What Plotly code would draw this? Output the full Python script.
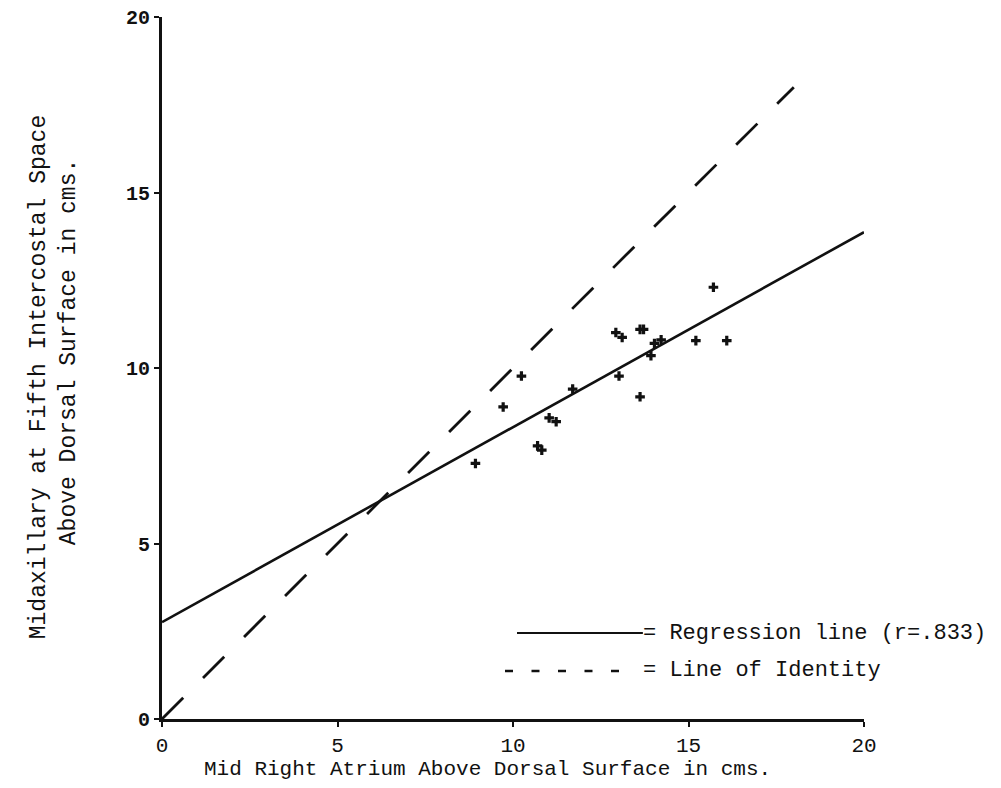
import plotly.graph_objects as go

# ---- data ----
atrium_x = [15.71, 12.93, 13.11, 13.62, 13.72, 14.03, 14.22, 15.21, 16.09, 13.93,
            13.02, 13.62, 11.70, 10.24, 9.72, 11.03, 11.23, 10.70, 10.82, 8.93]
midax_y = [12.30, 11.01, 10.87, 11.10, 11.10, 10.70, 10.80, 10.78, 10.78, 10.35,
           9.77, 9.18, 9.40, 9.77, 8.89, 8.58, 8.47, 7.78, 7.66, 7.28]

regression_x = [0, 20]
regression_y = [2.76, 13.87]
identity_x = [0, 18]
identity_y = [0, 18]

tick_vals = [0, 5, 10, 15, 20]
tick_text = ["0", "5", "10", "15", "20"]

x_title = "Mid Right Atrium Above Dorsal Surface in cms."
y_title_1 = "Midaxillary at Fifth Intercostal Space"
y_title_2 = "Above Dorsal Surface in cms."
legend_reg = "= Regression line (r=.833)"
legend_id = "= Line of Identity"

FONT = "Liberation Mono"
INK = "#111111"

fig = go.Figure()
fig.add_trace(go.Scatter(x=identity_x, y=identity_y, mode="lines",
                         line=dict(color=INK, width=2.8, dash="30px,28px"),
                         showlegend=False, hoverinfo="skip"))
fig.add_trace(go.Scatter(x=regression_x, y=regression_y, mode="lines",
                         line=dict(color=INK, width=2.6),
                         showlegend=False, hoverinfo="skip", cliponaxis=False))
fig.add_trace(go.Scatter(x=atrium_x, y=midax_y, mode="markers",
                         marker=dict(symbol="cross", size=8, color=INK),
                         showlegend=False, cliponaxis=False))

# legend drawn like the typed key
fig.add_shape(type="line", xref="paper", yref="paper", x0=0.5057, x1=0.685, y0=0.1225, y1=0.1225,
              line=dict(color=INK, width=2))
fig.add_shape(type="line", xref="paper", yref="paper", x0=0.4886, x1=0.652, y0=0.0684, y1=0.0684,
              line=dict(color=INK, width=2.6, dash="8px,18.5px"))
fig.add_annotation(text=legend_reg, xref="paper", yref="paper", x=0.682, y=0.1225,
                   xanchor="left", yanchor="middle", showarrow=False,
                   font=dict(family=FONT, size=22, color=INK))
fig.add_annotation(text=legend_id, xref="paper", yref="paper", x=0.682, y=0.0684,
                   xanchor="left", yanchor="middle", showarrow=False,
                   font=dict(family=FONT, size=22, color=INK))

# axis titles
fig.add_annotation(text=x_title, xref="paper", yref="paper", x=0.464, y=-0.0726,
                   xanchor="center", yanchor="middle", showarrow=False,
                   font=dict(family=FONT, size=21, color=INK))
fig.add_annotation(text=y_title_1, xref="paper", yref="paper", x=-0.175, y=0.487,
                   xanchor="center", yanchor="middle", showarrow=False, textangle=-90,
                   font=dict(family=FONT, size=23, color=INK))
fig.add_annotation(text=y_title_2, xref="paper", yref="paper", x=-0.133, y=0.522,
                   xanchor="center", yanchor="middle", showarrow=False, textangle=-90,
                   font=dict(family=FONT, size=23, color=INK))

fig.update_xaxes(range=[0, 20], tickvals=tick_vals, ticktext=tick_text,
                 showgrid=False, zeroline=False, showline=True, linecolor=INK, linewidth=3,
                 ticks="outside", ticklen=5, tickwidth=2, tickcolor=INK,
                 ticklabeloverflow="allow", automargin=False,
                 tickfont=dict(family=FONT, size=21, color=INK))
fig.update_yaxes(range=[0, 20], tickvals=tick_vals, ticktext=tick_text,
                 showgrid=False, zeroline=False, showline=True, linecolor=INK, linewidth=3,
                 ticks="outside", ticklen=5, tickwidth=2, tickcolor=INK,
                 ticklabeloverflow="allow", automargin=False,
                 tickfont=dict(family=FONT, size=20, color=INK, weight="bold"))

# the page body adds an 8px margin, so the figure is sized to fit inside the window
fig.update_layout(width=993, height=772,
                  margin=dict(l=154, r=137, t=9, b=61, autoexpand=False),
                  paper_bgcolor="white", plot_bgcolor="white")

fig.write_html("out.html")
